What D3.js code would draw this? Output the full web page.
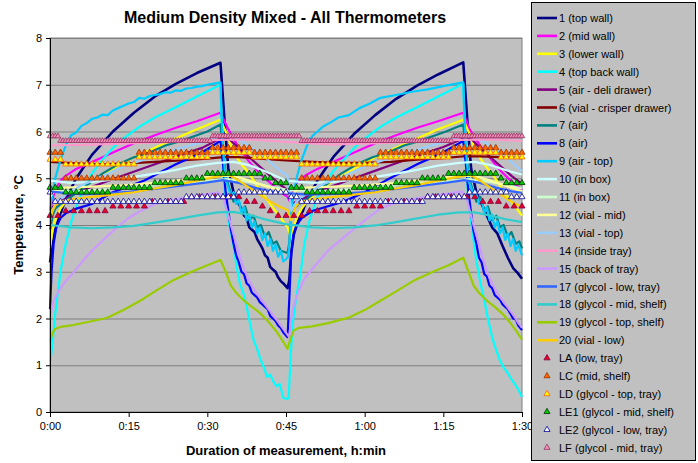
<!DOCTYPE html>
<html>
<head>
<meta charset="utf-8">
<script src="https://cdn.jsdelivr.net/npm/d3@7"></script>
<style>
  body { margin: 0; background: #fff; }
  svg { font-family: Arial, "Liberation Sans", sans-serif; }
</style>
</head>
<body>
<div id="wrapper"></div>
<script>
// ---- data (time in minutes, temperature in °C) ----
const xTicks = [0, 15, 30, 45, 60, 75, 90]
const xTickLabels = ["0:00", "0:15", "0:30", "0:45", "1:00", "1:15", "1:30"]
const yTicks = [0, 1, 2, 3, 4, 5, 6, 7, 8]

const lineNames = ["1 (top wall)", "2 (mid wall)", "3 (lower wall)", "4 (top back wall)",
  "5 (air - deli drawer)", "6 (vial - crisper drawer)", "7 (air)", "8 (air)", "9 (air  - top)",
  "10 (in box)", "11 (in box)", "12 (vial - mid)", "13 (vial - top)", "14 (inside tray)",
  "15 (back of tray)", "17 (glycol - low, tray)", "18 (glycol - mid, shelf)",
  "19 (glycol - top, shelf)", "20 (vial - low)"]
const lineColors = ["#000080", "#ff00ff", "#ffff00", "#00ffff", "#800080", "#800000", "#008080",
  "#0000ff", "#00ccff", "#ccffff", "#ccffcc", "#ffff99", "#99ccff", "#ff99cc", "#cc99ff",
  "#3366ff", "#33cccc", "#99cc00", "#ffcc00"]

const s1 = [[0,3.2],[0.5,3.6],[1,3.9],[2,4.25],[3,4.55],[5,5.0],[8,5.5],[12,6.0],[16,6.4],[20,6.75],[24,7.02],[28,7.25],[32.5,7.47],
  [33.3,6.2],[34,5.2],[35,4.7],[35.5,4.55],[36,4.45],[36.5,4.35],[37,4.2],[37.5,4.15],[38,3.95],[38.5,3.9],[39,3.85],[39.5,3.7],[40,3.6],[40.5,3.5],[41,3.35],[41.5,3.3],[42,3.1],[42.5,3.05],[43,3.0],[43.5,2.88],[44,2.8],[44.5,2.75],[45.3,2.65],
  [45.6,2.8],[46,3.4],[46.5,3.8],[47.2,4.05],[48.2,4.3],[49,4.55],[51,4.95],[54,5.45],[58,5.95],[62,6.35],[66,6.7],[70,6.98],[74,7.22],[78.8,7.48],
  [79.6,6.2],[80.3,5.2],[81.3,4.7],[82.3,4.45],[83.3,4.2],[84.3,3.95],[85.3,3.82],[86.3,3.55],[87.3,3.3],[88.3,3.08],[89.2,2.97],[90,2.85]]
const s2 = [[0,4.3],[0.5,4.55],[1,4.75],[2,4.95],[3,5.05],[5,5.2],[8,5.35],[12,5.55],[16,5.75],[20,5.92],[24,6.08],[28,6.22],[32.5,6.4],
  [34,6.05],[36,5.65],[38,5.35],[40,5.1],[42,4.9],[44,4.7],[45.3,4.6],
  [46,4.45],[46.5,4.75],[47,4.9],[48,5.0],[49,5.08],[51,5.2],[54,5.35],[58,5.55],[62,5.75],[66,5.92],[70,6.08],[74,6.22],[78.8,6.4],
  [80,6.05],[82,5.7],[84,5.42],[86,5.15],[88,4.93],[90,4.75]]
const s3 = [[0,3.5],[0.5,3.9],[1,4.1],[2,4.35],[3,4.5],[5,4.7],[8,4.95],[12,5.2],[16,5.45],[20,5.65],[24,5.85],[28,6.05],[32.5,6.25],
  [33.5,6.0],[35,5.55],[36.5,5.3],[38,5.1],[40,4.75],[42,4.45],[44,4.15],[45.3,3.95],
  [46,3.7],[46.5,3.95],[47,4.15],[48,4.35],[49,4.5],[51,4.7],[54,4.95],[58,5.2],[62,5.45],[66,5.65],[70,5.85],[74,6.05],[78.8,6.25],
  [79.8,6.0],[81.3,5.55],[82.8,5.3],[84.3,5.1],[86.3,4.75],[88.3,4.45],[90,4.2]]
const s4 = [[0,1.0],[0.5,1.5],[1,2.1],[2,3.0],[3,3.6],[4,4.05],[5,4.4],[6.5,4.8],[8,5.1],[10,5.4],[12,5.65],[14,5.85],[17,6.1],[20,6.3],[24,6.52],[28,6.75],[32.5,7.0],
  [33,5.2],[33.5,4.4],[34.2,4.0],[35,3.55],[35.6,3.1],[36.2,2.75],[37,2.5],[37.6,2.2],[38.3,1.8],[38.8,1.55],[39.5,1.35],[40.2,1.1],[40.8,0.95],[41.4,0.75],[42,0.8],[42.6,0.65],[43.2,0.55],[43.8,0.6],[44.5,0.3],[45.2,0.28],
  [45.5,0.3],[45.9,1.2],[46.3,1.9],[47,2.5],[47.7,2.9],[48.5,3.6],[49.5,4.1],[50.5,4.45],[52,4.85],[54,5.15],[56,5.4],[58,5.65],[60,5.85],[63,6.1],[66,6.3],[70,6.52],[74,6.75],[78.8,7.02],
  [79.3,5.3],[79.8,4.5],[80.5,3.9],[81.2,3.3],[82,2.8],[82.8,2.4],[83.5,2.0],[84.3,1.6],[85,1.35],[85.8,1.1],[86.5,0.95],[87.2,0.85],[88,0.7],[88.5,0.62],[89.2,0.5],[90,0.32]]
const s5 = [[0,4.35],[2,4.5],[5,4.7],[10,4.9],[15,5.1],[20,5.3],[25,5.5],[29,5.65],[32.5,5.85],[34,5.85],[36,5.65],[38,5.45],[40,5.25],[42,5.05],[44,4.85],[45.3,4.75],
  [46,4.45],[48,4.55],[51,4.72],[56,4.92],[61,5.12],[66,5.32],[71,5.52],[75,5.67],[78.8,5.85],[80,5.88],[82,5.65],[84,5.45],[86,5.25],[88,5.05],[90,4.88]]
const s6 = [[0,5.35],[5,5.32],[10,5.3],[15,5.32],[20,5.35],[25,5.38],[30,5.42],[33,5.45],[36,5.45],[40,5.42],[45,5.38],
  [50,5.35],[55,5.33],[60,5.33],[65,5.35],[70,5.4],[75,5.43],[79,5.47],[82,5.47],[86,5.45],[90,5.43]]
const s7 = [[0,3.9],[0.5,4.2],[1,4.35],[2,4.45],[4,4.6],[7,4.85],[10,5.1],[13,5.3],[16,5.45],[19,5.55],[22,5.7],[25,5.8],[28,5.92],[30,6.0],[32.5,6.15],
  [33,5.6],[33.6,5.0],[34.3,4.75],[35,4.5],[35.8,4.6],[36.5,4.3],[37.2,4.4],[38,4.1],[38.8,4.2],[39.5,3.95],[40.2,4.0],[41,3.75],[41.7,3.85],[42.5,3.6],[43.2,3.65],[44,3.45],[45.3,3.4],
  [45.6,3.6],[46,4.2],[46.5,4.35],[47.5,4.45],[49.5,4.6],[52.5,4.85],[55.5,5.1],[58.5,5.3],[61.5,5.45],[64.5,5.55],[67.5,5.7],[70.5,5.8],[73.5,5.92],[75.5,6.0],[78.8,6.15],
  [79.3,5.6],[79.9,5.0],[80.6,4.75],[81.3,4.5],[82.1,4.6],[82.8,4.3],[83.5,4.4],[84.3,4.1],[85.1,4.2],[85.8,3.95],[86.5,4.0],[87.3,3.75],[88,3.85],[88.8,3.6],[89.5,3.65],[90,3.5]]
const s8 = [[0,2.2],[0.3,3.0],[0.7,3.6],[1.2,3.95],[2,4.15],[3,4.25],[5,4.35],[8,4.45],[12,4.7],[18,4.95],[24,5.3],[28,5.5],[30,5.62],[32.5,5.8],
  [33,5.3],[33.5,4.7],[34,4.3],[34.5,3.9],[35,3.6],[35.5,3.35],[36,3.2],[36.5,3.0],[37,2.95],[37.5,2.75],[38,2.7],[38.5,2.55],[39,2.5],[39.5,2.45],[40,2.35],[40.5,2.3],[41,2.25],[41.5,2.2],[42,2.05],[42.5,2.0],[43,1.95],[43.5,1.85],[44,1.8],[44.5,1.7],[45.3,1.6],
  [45.7,2.6],[46,3.4],[46.4,3.8],[47,4.0],[48,4.15],[50,4.3],[53,4.4],[56,4.5],[60,4.7],[64,4.95],[70,5.3],[74,5.5],[76,5.62],[78.8,5.8],
  [79.3,5.3],[79.8,4.7],[80.3,4.25],[80.8,3.85],[81.3,3.6],[81.8,3.3],[82.3,3.2],[82.8,2.95],[83.3,2.9],[83.8,2.7],[84.3,2.65],[84.8,2.5],[85.3,2.45],[85.8,2.4],[86.3,2.3],[86.8,2.25],[87.3,2.2],[87.8,2.1],[88.3,2.0],[88.8,1.98],[89.3,1.85],[90,1.75]]
const s9 = [[0,4.3],[0.5,4.7],[1,5.0],[2,5.4],[3,5.7],[4,5.92],[5,5.98],[6,6.12],[7,6.18],[8,6.27],[9,6.3],[10,6.36],[11,6.35],[12,6.45],[13,6.5],[14,6.55],[15,6.6],[16,6.63],[17,6.72],[18,6.7],[19,6.76],[20,6.78],[21,6.8],[22,6.84],[23,6.83],[24,6.88],[25,6.87],[26,6.92],[27,6.93],[28,6.96],[29,6.97],[30,7.0],[31,7.02],[32.5,7.05],
  [33,5.6],[33.5,4.95],[34,4.8],[34.5,4.62],[35,4.7],[35.5,4.45],[36,4.55],[36.5,4.25],[37,4.38],[37.5,4.1],[38,4.22],[38.5,3.95],[39,4.08],[39.5,3.82],[40,3.95],[40.5,3.68],[41,3.82],[41.5,3.55],[42,3.7],[42.5,3.45],[43,3.58],[43.5,3.32],[44,3.45],[44.5,3.22],[45.3,3.3],
  [45.6,3.5],[46,4.3],[46.5,4.7],[47,5.0],[48,5.4],[49,5.7],[50,5.9],[51,6.0],[52,6.1],[53.6,6.2],[55,6.3],[57,6.35],[59,6.5],[61,6.6],[63,6.72],[66,6.78],[69,6.85],[72,6.9],[75,6.97],[78.8,7.05],
  [79.3,5.6],[79.8,4.95],[80.3,4.8],[80.8,4.62],[81.3,4.7],[81.8,4.45],[82.3,4.55],[82.8,4.25],[83.3,4.38],[83.8,4.1],[84.3,4.22],[84.8,3.95],[85.3,4.08],[85.8,3.82],[86.3,3.95],[86.8,3.68],[87.3,3.82],[87.8,3.55],[88.3,3.7],[88.8,3.45],[89.3,3.58],[90,3.35]]
const s10 = [[0,4.95],[4,4.9],[8,4.92],[12,4.97],[16,5.03],[20,5.1],[24,5.18],[28,5.27],[32,5.33],[35,5.35],[38,5.28],[41,5.15],[45,4.95],
  [50,4.9],[54,4.92],[58,4.97],[62,5.03],[66,5.1],[70,5.18],[74,5.27],[78,5.33],[81,5.35],[84,5.28],[87,5.17],[90,5.08]]
const s11 = [[0,4.75],[5,4.72],[10,4.75],[15,4.8],[20,4.85],[25,4.9],[30,4.95],[34,4.98],[38,4.92],[42,4.82],[45.3,4.75],
  [51,4.72],[56,4.75],[61,4.8],[66,4.85],[71,4.9],[76,4.95],[80,4.98],[84,4.92],[88,4.83],[90,4.78]]
const s12 = [[0,4.6],[1,4.75],[3,4.8],[8,4.82],[14,4.85],[20,4.9],[26,4.97],[32,5.05],[35,5.05],[38,4.95],[42,4.8],[45.3,4.7],
  [46,4.6],[47,4.75],[49,4.8],[54,4.82],[60,4.85],[66,4.9],[72,4.97],[78,5.05],[81,5.05],[84,4.95],[88,4.8],[90,4.72]]
const s13 = [[0,4.2],[1,4.45],[3,4.65],[6,4.85],[10,5.05],[14,5.25],[18,5.4],[22,5.55],[26,5.68],[30,5.8],[33,5.92],[35,5.88],[38,5.7],[41,5.45],[44,5.15],[45.3,5.05],
  [46,4.3],[47,4.5],[49,4.68],[52,4.87],[56,5.05],[60,5.25],[64,5.4],[68,5.55],[72,5.68],[76,5.8],[79,5.92],[81,5.88],[84,5.7],[87,5.45],[90,5.15]]
const s14 = [[0,5.7],[8,5.72],[16,5.75],[24,5.78],[32,5.82],[38,5.83],[45,5.78],[54,5.72],[62,5.75],[70,5.78],[78,5.82],[84,5.83],[90,5.8]]
const s15 = [[0,2.0],[0.5,2.3],[1,2.45],[2,2.65],[3,2.8],[4.4,2.97],[6,3.2],[8,3.45],[10.8,3.75],[13,3.97],[15,4.15],[17.2,4.3],[20,4.45],[24,4.55],[28,4.62],[32,4.7],
  [33,4.6],[34,4.2],[35,3.8],[36,3.4],[37,3.05],[38,2.8],[39,2.6],[40,2.45],[41,2.3],[42,2.15],[43,2.0],[44,1.85],[45.3,1.65],
  [45.6,1.6],[46,2.0],[46.5,2.3],[47.5,2.6],[48.5,2.85],[50.3,3.1],[53,3.45],[56.7,3.8],[60,4.1],[63,4.35],[66,4.48],[70,4.57],[74,4.64],[78.5,4.72],
  [79.5,4.55],[80.5,4.1],[81.5,3.7],[82.5,3.3],[83.5,2.95],[84.5,2.7],[85.5,2.5],[86.5,2.35],[87.5,2.2],[88.5,2.05],[89.3,1.9],[90,1.8]]
const s17 = [[0,4.72],[3,4.68],[6,4.66],[10,4.67],[15,4.71],[20,4.77],[25,4.84],[30,4.91],[33,4.96],[36,4.9],[39,4.8],[42,4.72],[45.3,4.68],
  [49,4.65],[52,4.66],[56,4.67],[61,4.71],[66,4.77],[71,4.84],[76,4.91],[79,4.96],[82,4.9],[85,4.8],[88,4.72],[90,4.69]]
const s18 = [[0,4.0],[4,3.95],[8,3.93],[12,3.95],[16,3.98],[20,4.05],[24,4.12],[28,4.2],[32,4.27],[35,4.28],[38,4.22],[41,4.12],[45,4.02],
  [50,3.95],[54,3.93],[58,3.95],[62,3.99],[66,4.06],[70,4.14],[74,4.22],[78,4.27],[81,4.27],[84,4.2],[87,4.12],[90,4.06]]
const s19 = [[0,1.5],[0.5,1.7],[1,1.78],[2,1.82],[4.4,1.86],[7,1.92],[10.8,2.01],[14,2.18],[17.2,2.38],[20,2.58],[23.5,2.82],[27,3.0],[30,3.14],[32.5,3.25],
  [33.5,3.0],[34.5,2.7],[35.5,2.55],[37,2.38],[38.5,2.25],[40,2.12],[41.5,1.95],[43,1.75],[44.5,1.5],[45.3,1.35],
  [45.8,1.55],[46.5,1.75],[47.5,1.8],[50,1.83],[53,1.9],[57,2.02],[60,2.18],[63,2.38],[66,2.58],[69.5,2.82],[73,3.0],[76,3.14],[78.8,3.3],
  [79.8,3.0],[80.8,2.7],[81.8,2.55],[83.3,2.38],[84.8,2.25],[86.3,2.1],[87.8,1.9],[89,1.72],[90,1.55]]
const s20 = [[0,4.1],[0.5,4.3],[1,4.42],[2,4.5],[4,4.55],[8,4.6],[12,4.65],[16,4.7],[20,4.78],[24,4.86],[28,4.95],[32.5,5.05],[34,5.08],[36,4.95],[38,4.8],[40,4.65],[42,4.5],[44,4.38],[45.3,4.32],
  [46,4.1],[46.5,4.3],[47,4.42],[48,4.5],[50,4.55],[54,4.6],[58,4.65],[62,4.7],[66,4.78],[70,4.86],[74,4.95],[78.8,5.05],[80,5.08],[82,4.95],[84,4.8],[86,4.65],[88,4.5],[90,4.38]]
const lineData = [s1, s2, s3, s4, s5, s6, s7, s8, s9, s10, s11, s12, s13, s14, s15, s17, s18, s19, s20]

// logger readings: [value, number of consecutive readings], one reading every `step` minutes from 0:00
const markerNames = ["LA (low, tray)", "LC (mid, shelf)", "LD (glycol - top, tray)",
  "LE1 (glycol - mid, shelf)", "LE2 (glycol - low, tray)", "LF (glycol - mid, tray)"]
const markerFill = ["#e8002a", "#ff6600", "#ffff00", "#00cc00", "#ffffff", "#f090b8"]
const markerStroke = ["#800040", "#993300", "#ff6600", "#003300", "#000099", "#993366"]
const markerStep = [1.5, 1, 1, 1, 1, 0.5]
const laRuns = [[4.2,2],[4.3,6],[4.4,5],[4.5,5],[4.6,7],[4.5,2],[4.4,1],[4.3,1],[4.2,4],[4.3,6],[4.4,4],[4.5,5],[4.6,7],[4.5,3],[4.4,3]]
const lcRuns = [[5.55,3],[5.0,14],[5.55,14],[5.65,8],[5.55,9],[5.0,15],[5.55,14],[5.65,9],[5.55,5]]
const ldRuns = [[5.4,3],[5.3,14],[5.45,14],[5.55,8],[5.45,9],[5.3,15],[5.45,14],[5.55,9],[5.45,5]]
const le1Runs = [[4.8,3],[4.7,9],[4.8,8],[4.9,6],[5.0,4],[5.1,11],[5.0,2],[4.9,3],[4.8,3],[4.7,9],[4.8,8],[4.9,5],[5.0,5],[5.1,10],[5.0,1],[4.9,4]]
const le2Runs = [[4.7,1],[4.5,25],[4.6,10],[4.7,10],[4.6,2],[4.5,24],[4.6,8],[4.7,8],[4.6,3]]
const lfRuns = [[5.9,4],[5.8,58],[5.9,34],[5.8,58],[5.9,27]]
const markerRuns = [laRuns, lcRuns, ldRuns, le1Runs, le2Runs, lfRuns]

// ---- layout ----
const width = 698, height = 463
const plot = { left: 50, right: 522, top: 38, bottom: 412 }

const svg = d3.select("#wrapper").append("svg")
  .attr("width", width)
  .attr("height", height)

const xScale = d3.scaleLinear().domain([0, 90]).range([plot.left, plot.right])
const yScale = d3.scaleLinear().domain([0, 8]).range([plot.bottom, plot.top])

svg.append("rect")
  .attr("x", plot.left).attr("y", plot.top)
  .attr("width", plot.right - plot.left).attr("height", plot.bottom - plot.top)
  .attr("fill", "#c0c0c0")
  .attr("stroke", "#808080")

svg.append("g").selectAll("line")
  .data(yTicks.slice(1))
  .join("line")
  .attr("x1", plot.left).attr("x2", plot.right)
  .attr("y1", d => yScale(d) + 0.5).attr("y2", d => yScale(d) + 0.5)
  .attr("stroke", "#808080")

// lines
const line = d3.line()
  .x(d => xScale(d[0]))
  .y(d => yScale(d[1]))

svg.append("g").selectAll("path")
  .data(lineData)
  .join("path")
  .attr("d", line)
  .attr("fill", "none")
  .attr("stroke", (d, i) => lineColors[i])
  .attr("stroke-width", (d, i) => i === 0 ? 2.6 : 2.2)
  .attr("stroke-linejoin", "round")

// markers
const triangle = d3.symbol().type(d3.symbolTriangle)
markerRuns.forEach((runs, k) => {
  const pts = []
  let n = 0
  runs.forEach(([v, count]) => {
    for (let j = 0; j < count; j++) { pts.push([n * markerStep[k], v]); n++ }
  })
  svg.append("g").selectAll("path")
    .data(pts)
    .join("path")
    .attr("d", triangle.size(k === 5 ? 13 : 16)())
    .attr("transform", d => `translate(${xScale(d[0])},${yScale(d[1])})`)
    .attr("fill", markerFill[k])
    .attr("stroke", markerStroke[k])
    .attr("stroke-width", 0.8)
})

// axes
svg.append("g")
  .attr("transform", `translate(0,${plot.bottom})`)
  .call(d3.axisBottom(xScale).tickValues(xTicks).tickFormat((d, i) => xTickLabels[i]).tickSize(5).tickPadding(5))
svg.append("g")
  .attr("transform", `translate(${plot.left},0)`)
  .call(d3.axisLeft(yScale).tickValues(yTicks).tickSize(4).tickPadding(4))

svg.selectAll(".domain").attr("stroke", "#000")
svg.selectAll(".tick line").attr("stroke", "#000")
svg.selectAll(".tick text").attr("font-size", 11).attr("fill", "#000")
  .attr("font-family", "Arial, 'Liberation Sans', sans-serif")

// titles
svg.append("text")
  .attr("x", 285).attr("y", 23)
  .attr("text-anchor", "middle")
  .attr("font-size", 16).attr("font-weight", "bold")
  .text("Medium Density Mixed - All Thermometers")

svg.append("text")
  .attr("x", 286).attr("y", 455)
  .attr("text-anchor", "middle")
  .attr("font-size", 13).attr("font-weight", "bold")
  .text("Duration of measurement, h:min")

svg.append("text")
  .attr("transform", "translate(23,225) rotate(-90)")
  .attr("text-anchor", "middle")
  .attr("font-size", 13).attr("font-weight", "bold")
  .text("Temperature, °C")

// legend
const legend = svg.append("g")
legend.append("rect")
  .attr("x", 531.5).attr("y", 2.5)
  .attr("width", 164).attr("height", 458)
  .attr("fill", "#c0c0c0")
  .attr("stroke", "#000")

const itemY = i => 18 + i * 17.9
lineNames.forEach((name, i) => {
  legend.append("line")
    .attr("x1", 537).attr("x2", 557)
    .attr("y1", itemY(i)).attr("y2", itemY(i))
    .attr("stroke", lineColors[i])
    .attr("stroke-width", 2.6)
  legend.append("text")
    .attr("x", 559).attr("y", itemY(i) + 4)
    .attr("font-size", 11)
    .text(name)
})
markerNames.forEach((name, k) => {
  const i = lineNames.length + k
  legend.append("path")
    .attr("d", triangle.size(16)())
    .attr("transform", `translate(547,${itemY(i)})`)
    .attr("fill", markerFill[k])
    .attr("stroke", markerStroke[k])
    .attr("stroke-width", 0.8)
  legend.append("text")
    .attr("x", 559).attr("y", itemY(i) + 4)
    .attr("font-size", 11)
    .text(name)
})
</script>
</body>
</html>
